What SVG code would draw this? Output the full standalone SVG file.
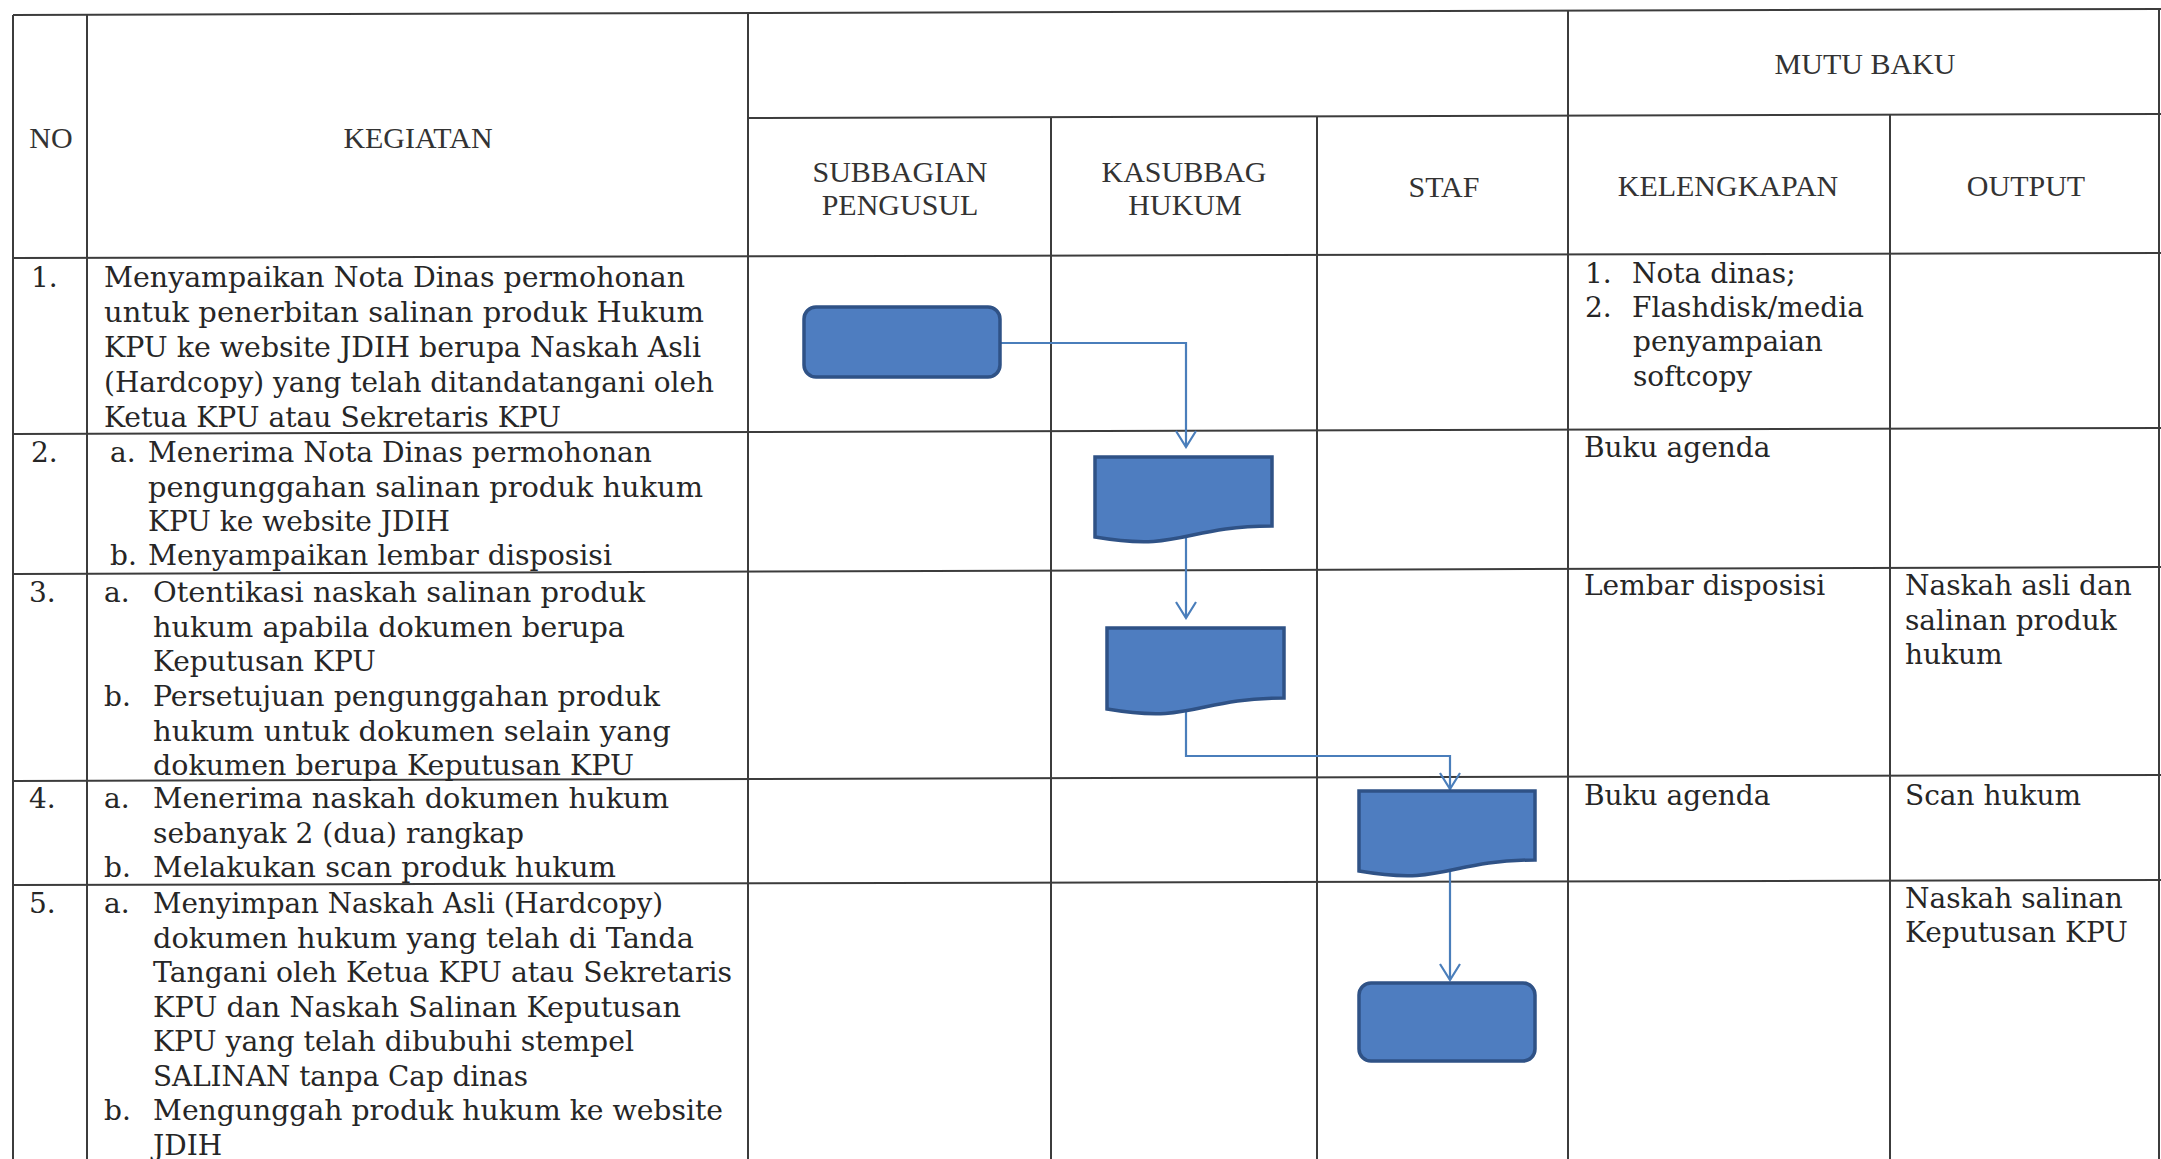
<svg xmlns="http://www.w3.org/2000/svg" width="2161" height="1159" viewBox="0 0 2161 1159">
<style>
.grid line{stroke:#3c3c3c;stroke-width:2}
.hd{font-family:"Liberation Serif","Times New Roman",serif;font-size:30px;fill:#333;text-anchor:middle}
.tx{font-family:"DejaVu Serif","Liberation Serif",serif;font-size:28px;fill:#262626}
.shape{fill:#4E7DC0;stroke:#2F5286;stroke-width:3.5}
.conn{fill:none;stroke:#4A7EBB;stroke-width:2.2}
</style>
<defs>
<marker id="arr" viewBox="-2 -12 20 24" refX="16" refY="0" markerWidth="20" markerHeight="24" markerUnits="userSpaceOnUse" orient="auto">
<path d="M0,-10 L16,0 L0,10" fill="none" stroke="#4A7EBB" stroke-width="2.2"/>
</marker>
</defs>
<rect width="2161" height="1159" fill="#fff"/>
<g id="table-grid" class="grid">
<line x1="13" y1="15" x2="2161" y2="9"/>
<line x1="748" y1="118" x2="2161" y2="114"/>
<line x1="13" y1="258" x2="2161" y2="253"/>
<line x1="13" y1="434" x2="2161" y2="428"/>
<line x1="13" y1="574" x2="2161" y2="567"/>
<line x1="13" y1="781" x2="2161" y2="775"/>
<line x1="13" y1="885" x2="2161" y2="880"/>
<line x1="13" y1="15" x2="13" y2="1159"/>
<line x1="87" y1="14" x2="87" y2="1159"/>
<line x1="748" y1="13" x2="748" y2="1159"/>
<line x1="1051" y1="117" x2="1051" y2="1159"/>
<line x1="1317" y1="116" x2="1317" y2="1159"/>
<line x1="1568" y1="11" x2="1568" y2="1159"/>
<line x1="1890" y1="115" x2="1890" y2="1159"/>
<line x1="2159" y1="9" x2="2159" y2="1159"/>
</g>
<g id="header">
<text class="hd" x="51" y="148">NO</text>
<text class="hd" x="418" y="148">KEGIATAN</text>
<text class="hd" x="1865" y="74">MUTU BAKU</text>
<text class="hd" x="900" y="182">SUBBAGIAN</text>
<text class="hd" x="900" y="215">PENGUSUL</text>
<text class="hd" x="1184" y="182">KASUBBAG</text>
<text class="hd" x="1185" y="215">HUKUM</text>
<text class="hd" x="1444" y="197">STAF</text>
<text class="hd" x="1728" y="196">KELENGKAPAN</text>
<text class="hd" x="2026" y="196">OUTPUT</text>
</g>
<g id="row1-text" class="tx">
<text x="31" y="287">1.</text>
<text x="104" y="287" textLength="581" lengthAdjust="spacingAndGlyphs">Menyampaikan Nota Dinas permohonan</text>
<text x="104" y="322" textLength="600" lengthAdjust="spacingAndGlyphs">untuk penerbitan salinan produk Hukum</text>
<text x="104" y="357" textLength="597" lengthAdjust="spacingAndGlyphs">KPU ke website JDIH berupa Naskah Asli</text>
<text x="104" y="392" textLength="610" lengthAdjust="spacingAndGlyphs">(Hardcopy) yang telah ditandatangani oleh</text>
<text x="104" y="427" textLength="457" lengthAdjust="spacingAndGlyphs">Ketua KPU atau Sekretaris KPU</text>
<text x="1585" y="283">1.</text>
<text x="1632" y="283">Nota dinas;</text>
<text x="1585" y="317">2.</text>
<text x="1632" y="317">Flashdisk/media</text>
<text x="1633" y="351">penyampaian</text>
<text x="1633" y="386">softcopy</text>
</g>
<g id="row2-text" class="tx">
<text x="31" y="462">2.</text>
<text x="110" y="462">a.</text>
<text x="148" y="462" textLength="504" lengthAdjust="spacingAndGlyphs">Menerima Nota Dinas permohonan</text>
<text x="148" y="497" textLength="555" lengthAdjust="spacingAndGlyphs">pengunggahan salinan produk hukum</text>
<text x="148" y="531">KPU ke website JDIH</text>
<text x="110" y="565">b.</text>
<text x="148" y="565" textLength="464" lengthAdjust="spacingAndGlyphs">Menyampaikan lembar disposisi</text>
<text x="1584" y="457">Buku agenda</text>
</g>
<g id="row3-text" class="tx">
<text x="29" y="602">3.</text>
<text x="104" y="602">a.</text>
<text x="153" y="602" textLength="492" lengthAdjust="spacingAndGlyphs">Otentikasi naskah salinan produk</text>
<text x="153" y="637" textLength="472" lengthAdjust="spacingAndGlyphs">hukum apabila dokumen berupa</text>
<text x="153" y="671">Keputusan KPU</text>
<text x="104" y="706">b.</text>
<text x="153" y="706" textLength="507" lengthAdjust="spacingAndGlyphs">Persetujuan pengunggahan produk</text>
<text x="153" y="741" textLength="518" lengthAdjust="spacingAndGlyphs">hukum untuk dokumen selain yang</text>
<text x="153" y="775" textLength="481" lengthAdjust="spacingAndGlyphs">dokumen berupa Keputusan KPU</text>
<text x="1584" y="595">Lembar disposisi</text>
<text x="1905" y="595">Naskah asli dan</text>
<text x="1905" y="630">salinan produk</text>
<text x="1905" y="664">hukum</text>
</g>
<g id="row4-text" class="tx">
<text x="29" y="808">4.</text>
<text x="104" y="808">a.</text>
<text x="153" y="808" textLength="516" lengthAdjust="spacingAndGlyphs">Menerima naskah dokumen hukum</text>
<text x="153" y="843" textLength="371" lengthAdjust="spacingAndGlyphs">sebanyak 2 (dua) rangkap</text>
<text x="104" y="877">b.</text>
<text x="153" y="877" textLength="463" lengthAdjust="spacingAndGlyphs">Melakukan scan produk hukum</text>
<text x="1584" y="805">Buku agenda</text>
<text x="1905" y="805">Scan hukum</text>
</g>
<g id="row5-text" class="tx">
<text x="29" y="913">5.</text>
<text x="104" y="913">a.</text>
<text x="153" y="913" textLength="510" lengthAdjust="spacingAndGlyphs">Menyimpan Naskah Asli (Hardcopy)</text>
<text x="153" y="948" textLength="541" lengthAdjust="spacingAndGlyphs">dokumen hukum yang telah di Tanda</text>
<text x="153" y="982" textLength="579" lengthAdjust="spacingAndGlyphs">Tangani oleh Ketua KPU atau Sekretaris</text>
<text x="153" y="1017" textLength="528" lengthAdjust="spacingAndGlyphs">KPU dan Naskah Salinan Keputusan</text>
<text x="153" y="1051" textLength="481" lengthAdjust="spacingAndGlyphs">KPU yang telah dibubuhi stempel</text>
<text x="153" y="1086" textLength="375" lengthAdjust="spacingAndGlyphs">SALINAN tanpa Cap dinas</text>
<text x="104" y="1120">b.</text>
<text x="153" y="1120" textLength="570" lengthAdjust="spacingAndGlyphs">Mengunggah produk hukum ke website</text>
<text x="153" y="1155">JDIH</text>
<text x="1905" y="908">Naskah salinan</text>
<text x="1905" y="942">Keputusan KPU</text>
</g>
<g id="connectors">
<path class="conn" d="M1000,343 H1186 V447" marker-end="url(#arr)"/>
<path class="conn" d="M1186,530 V618" marker-end="url(#arr)"/>
<path class="conn" d="M1186,700 V756 H1450 V789" marker-end="url(#arr)"/>
<path class="conn" d="M1450,860 V980" marker-end="url(#arr)"/>
</g>
<g id="start-subbagian">
<rect class="shape" x="804" y="307" width="196" height="70" rx="12"/>
</g>
<g id="doc-kasubbag-1">
<path class="shape" d="M1095,457 H1272 V526 C1183.5,526 1183.5,552 1095,537 Z"/>
</g>
<g id="doc-kasubbag-2">
<path class="shape" d="M1107,628 H1284 V698 C1195.5,698 1195.5,724 1107,709 Z"/>
</g>
<g id="doc-staf">
<path class="shape" d="M1359,791 H1535 V860 C1447,860 1447,886 1359,871 Z"/>
</g>
<g id="end-staf">
<rect class="shape" x="1359" y="983" width="176" height="78" rx="12"/>
</g>
</svg>
